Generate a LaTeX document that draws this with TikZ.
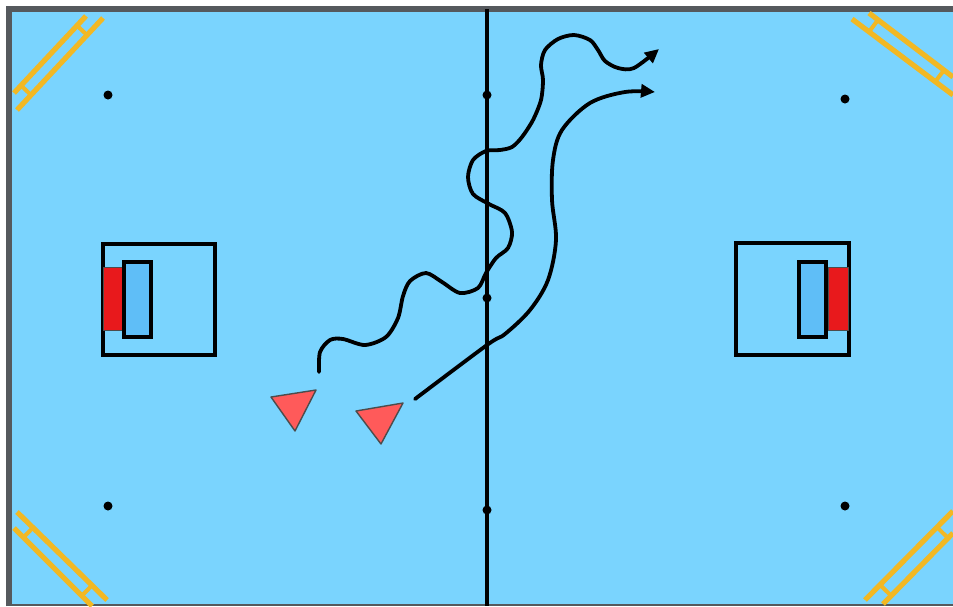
\documentclass[tikz,border=0pt]{standalone}
\usetikzlibrary{arrows.meta}
\definecolor{field}{HTML}{7AD4FE}
\definecolor{goalblue}{HTML}{5FBEF7}
\definecolor{goalred}{HTML}{E8191C}
\definecolor{playerred}{HTML}{FF5A5A}
\definecolor{ladder}{HTML}{F2B823}
\definecolor{rim}{HTML}{55595D}
\tikzset{
  rung/.style={draw=ladder, line width=4pt, line cap=butt},
  rail/.style={draw=ladder, line width=5.2pt},
  mark dot/.style={fill=black},
  crease/.style={draw=black, line width=3.8pt},
  keeper/.style={draw=black, line width=3.8pt, fill=goalblue},
  net/.style={draw=black!70, line width=0.8pt, fill=goalred},
  player/.style={draw=black!70, line width=1.4pt, fill=playerred, line join=round},
  route/.style={draw=black, line width=3.8pt, line cap=round, -{Triangle[length=14pt,width=13pt]}},
}
\begin{document}
\begin{tikzpicture}[x=1pt,y=-1pt]
\useasboundingbox (0,0) rectangle (953,606);
\fill[white] (0,0) rectangle (953,606);
\fill[field] (9,9) rectangle (953,605);
\draw[rim, line width=6pt] (9,606) -- (9,9) -- (953,9);
\draw[rim, line width=1.2pt] (9,605) -- (953,605);
% corner ladders
\draw[rung] (21,85.5) -- (31,95);
\draw[rung] (77,25.6) -- (87,35);
\draw[rail] (14,93) -- (86,16);
\draw[rail] (17,110) -- (103,18);
\draw[rung] (878,19.9) -- (869,31.8);
\draw[rung] (944,70.1) -- (935,82);
\draw[rail] (869,13) -- (953,77);
\draw[rail] (852,19) -- (953,95);
\draw[rung] (33,527.6) -- (23.6,537.2);
\draw[rung] (92,585.3) -- (82.6,595);
\draw[rail] (17,512) -- (107,600);
\draw[rail] (14,528) -- (92,606);
\draw[rung] (880,584.8) -- (891,595.6);
\draw[rung] (937,527.2) -- (948,538);
\draw[rail] (865,600) -- (953,511);
\draw[rail] (883,604) -- (953,533);
% centre line and dots
\draw[black, line width=3.8pt] (487,9) -- (487,606);
\foreach \p in {(108,95),(845,99),(108,506),(845,506),(487,95),(487,298),(487,510)}
  \fill[mark dot] \p circle (4.5);
% goals
\draw[crease] (103,244) rectangle (215,355);
\draw[net] (103,267) rectangle (123,330);
\draw[keeper] (124,262) rectangle (151,337);
\draw[crease] (736,243) rectangle (849,355);
\draw[net] (828,267) rectangle (848,330);
\draw[keeper] (799,262) rectangle (826,337);
% players
\draw[player] (271,397) -- (316,390) -- (295,431) -- cycle;
\draw[player] (356,411) -- (403,403) -- (381,444) -- cycle;
% routes
\draw[route] plot[smooth, tension=0.55] coordinates {(415,399) (487,345) (505,334) (530,310) (548,280) (556,240) (552,200) (553,160) (562,130) (590,103) (625,92) (655,92)};
\draw[route] plot[smooth, tension=0.5] coordinates {(319,372) (320,352) (330,340) (343,339) (365,345) (386,337) (398,318) (403,296) (410,281) (426,273) (442,282) (460,293) (478,288) (486,273) (496,258) (508,248) (512,232) (505,213) (489,204) (473,194) (468,177) (473,160) (486,151) (500,150) (512,147) (522,137) (533,120) (541,100) (543,80) (541,65) (545,50) (558,39) (574,35) (590,40) (598,50) (605,61) (618,68) (634,68) (659,49)};
\end{tikzpicture}
\end{document}
